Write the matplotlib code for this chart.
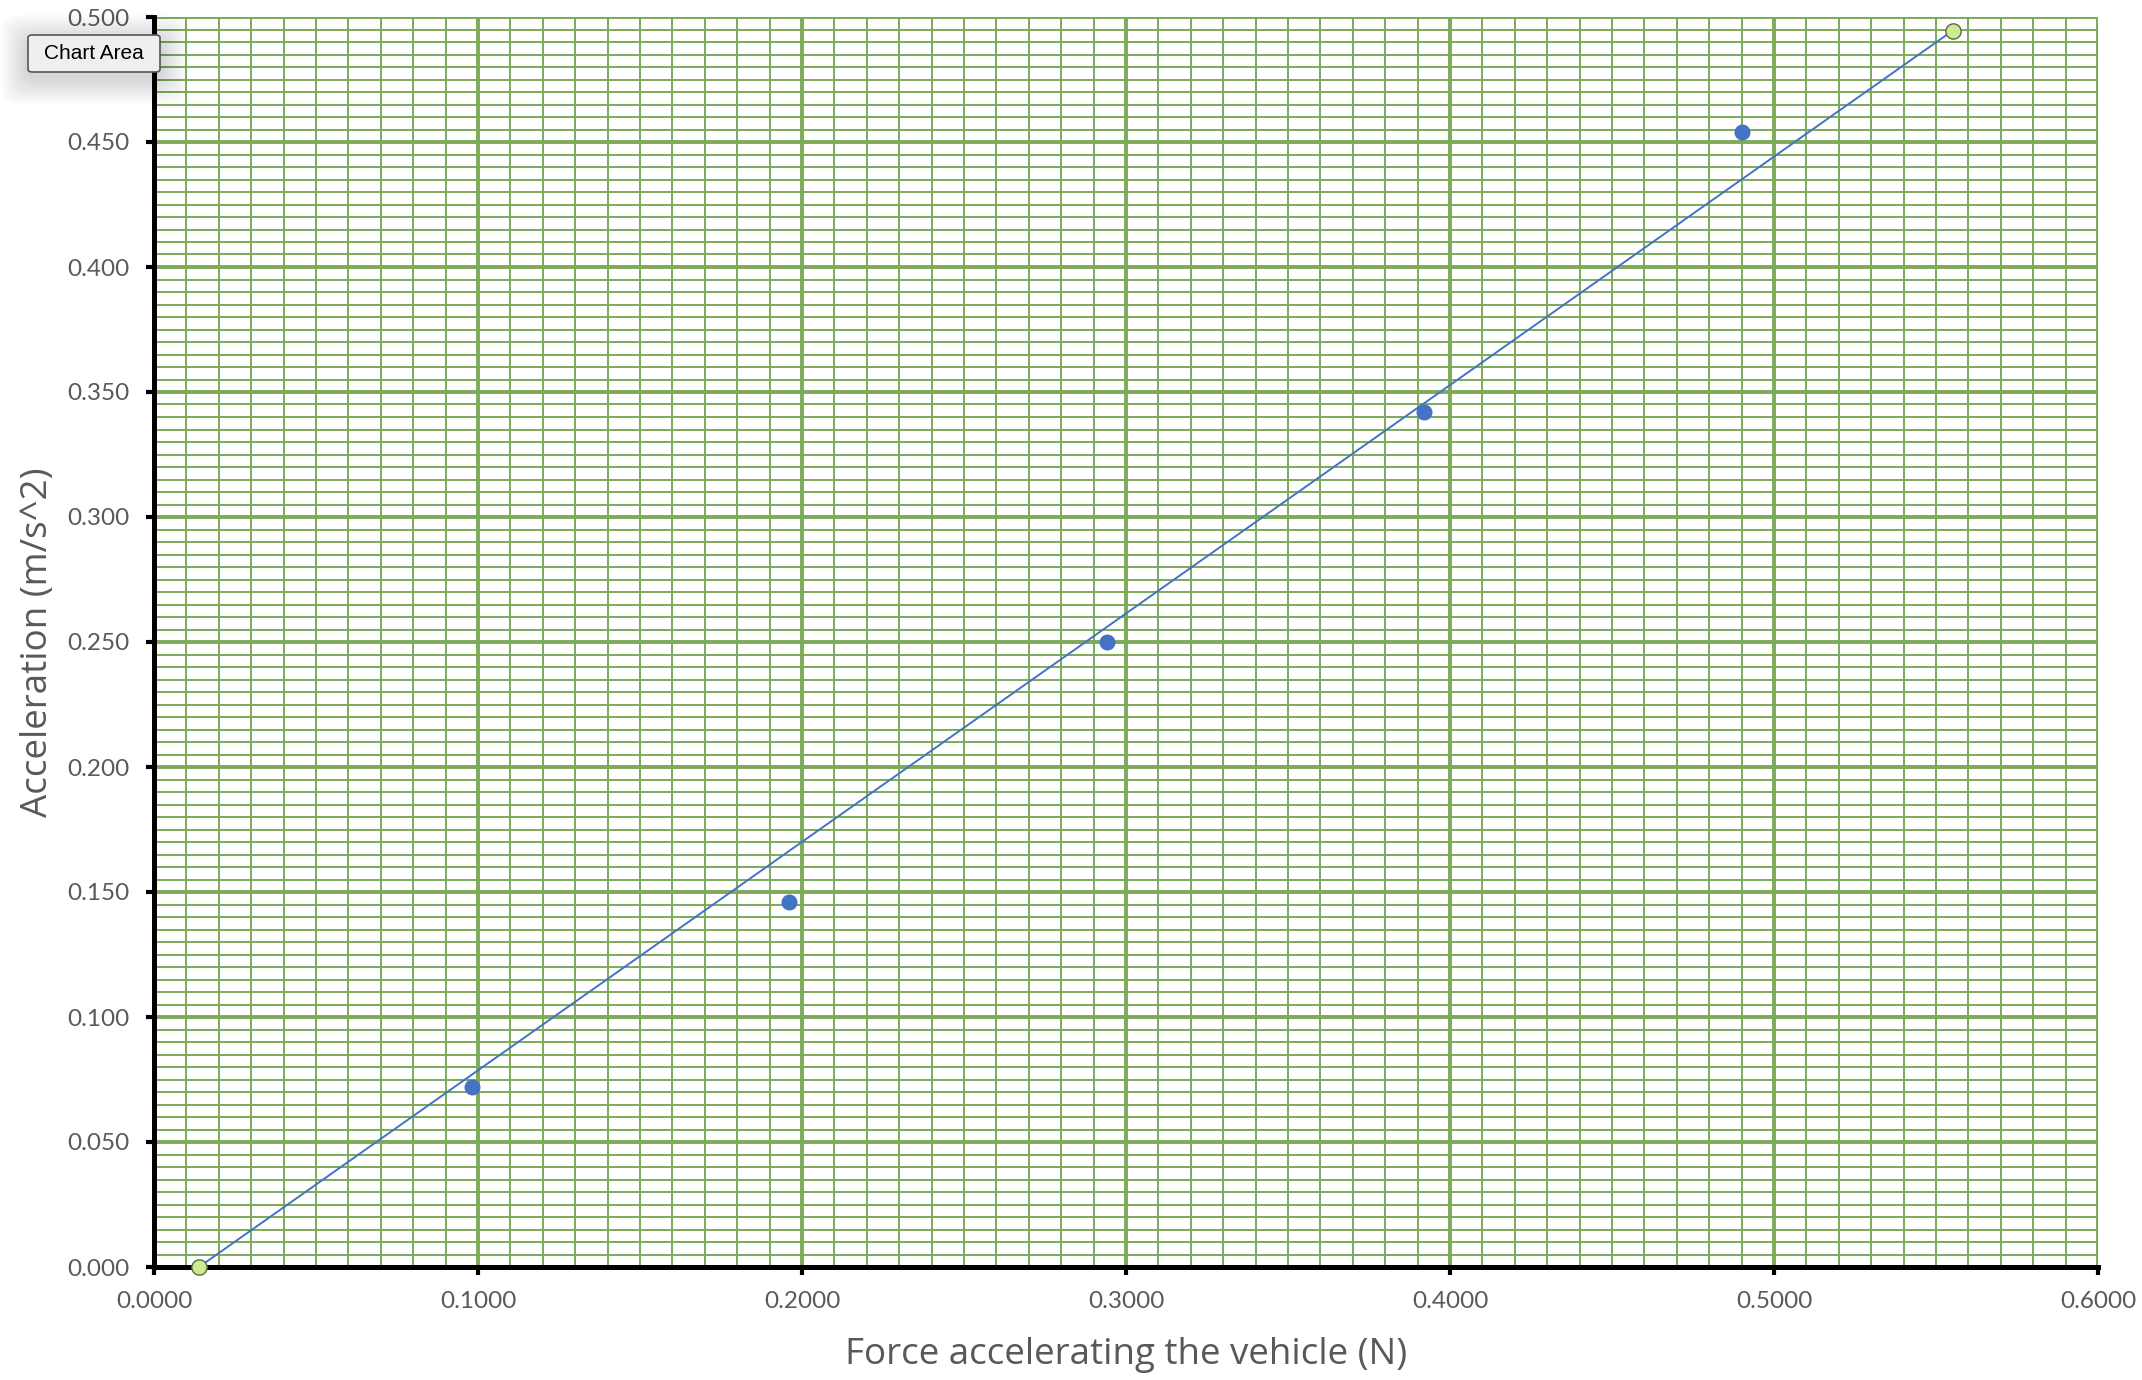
import matplotlib
matplotlib.use("Agg")
import matplotlib.pyplot as plt
from matplotlib.ticker import MultipleLocator, FormatStrFormatter
from matplotlib.patches import FancyBboxPatch

# ---- data ----
force = [0.098, 0.196, 0.294, 0.392, 0.490]
accel = [0.072, 0.146, 0.250, 0.342, 0.454]
fit_x = [0.0139, 0.5551]
fit_y = [0.000, 0.4945]

x_label = "Force accelerating the vehicle (N)"
y_label = "Acceleration (m/s^2)"

W, H, DPI = 2142, 1380, 100
fig = plt.figure(figsize=(W / DPI, H / DPI), dpi=DPI)
fig.patch.set_facecolor("white")

L, R, T, B = 154, 2098, 17, 1267
ax = fig.add_axes([L / W, 1 - B / H, (R - L) / W, (B - T) / H])

GREEN = "#7CAA58"
BLUE = "#4472C4"
GRAY = "#595959"

ax.set_xlim(0, 0.6)
ax.set_ylim(0, 0.5)
ax.xaxis.set_major_locator(MultipleLocator(0.1))
ax.xaxis.set_minor_locator(MultipleLocator(0.01))
ax.yaxis.set_major_locator(MultipleLocator(0.05))
ax.yaxis.set_minor_locator(MultipleLocator(0.005))
ax.xaxis.set_major_formatter(FormatStrFormatter("%.4f"))
ax.yaxis.set_major_formatter(FormatStrFormatter("%.3f"))

ax.set_axisbelow(True)
ax.grid(which="major", color=GREEN, linewidth=2.8, zorder=0)
ax.grid(which="minor", color=GREEN, linewidth=1.4, zorder=0)

for s in ("top", "right"):
    ax.spines[s].set_visible(False)
for s in ("left", "bottom"):
    ax.spines[s].set_color("black")
    ax.spines[s].set_linewidth(3.6)
    ax.spines[s].set_zorder(3)

ax.tick_params(which="major", direction="out", length=5.5, width=3,
               color="black", labelcolor=GRAY, labelsize=17.5)
ax.tick_params(which="minor", length=0)
ax.tick_params(axis="x", pad=12)
ax.tick_params(axis="y", pad=12)
for lab in ax.get_xticklabels() + ax.get_yticklabels():
    lab.set_fontfamily("Lato")

# trend line with green end markers
ax.plot(fit_x, fit_y, color=BLUE, linewidth=1.4, zorder=4, clip_on=False)
ax.plot(fit_x, fit_y, linestyle="none", marker="o", markersize=11,
        markerfacecolor="#CDEB95", markeredgecolor="#5A6A42",
        markeredgewidth=1.0, zorder=6, clip_on=False)
# data points
ax.plot(force, accel, linestyle="none", marker="o", markersize=10.5,
        markerfacecolor=BLUE, markeredgecolor=BLUE, zorder=5)

ax.set_xlabel(x_label, fontsize=26.5, color=GRAY, family="Open Sans", labelpad=18)
ax.set_ylabel(y_label, fontsize=26.5, color=GRAY, family="Open Sans", labelpad=8)

# "Chart Area" tooltip with soft shadow
bx0, by0, bx1, by1 = 28, 35, 160, 72
for i in range(8):
    pad = 26 - i * 3.2
    sh = FancyBboxPatch(((bx0 - pad) / W, 1 - (by1 + pad + 6) / H),
                        (bx1 - bx0 + 2 * pad) / W, (by1 - by0 + 2 * pad) / H,
                        boxstyle="round,pad=0,rounding_size=0.01",
                        transform=fig.transFigure, facecolor="black",
                        edgecolor="none", alpha=0.018, zorder=20)
    fig.patches.append(sh)
box = FancyBboxPatch((bx0 / W, 1 - by1 / H), (bx1 - bx0) / W, (by1 - by0) / H,
                     boxstyle="round,pad=0,rounding_size=0.002",
                     transform=fig.transFigure, facecolor="#EFEFEF",
                     edgecolor="#555555", linewidth=1.2, zorder=21)
fig.patches.append(box)
fig.text((bx0 + bx1) / 2 / W, 1 - (by0 + by1) / 2 / H, "Chart Area",
         ha="center", va="center", fontsize=15, family="Liberation Sans",
         color="black", zorder=22)

fig.savefig("out.png", dpi=DPI)
